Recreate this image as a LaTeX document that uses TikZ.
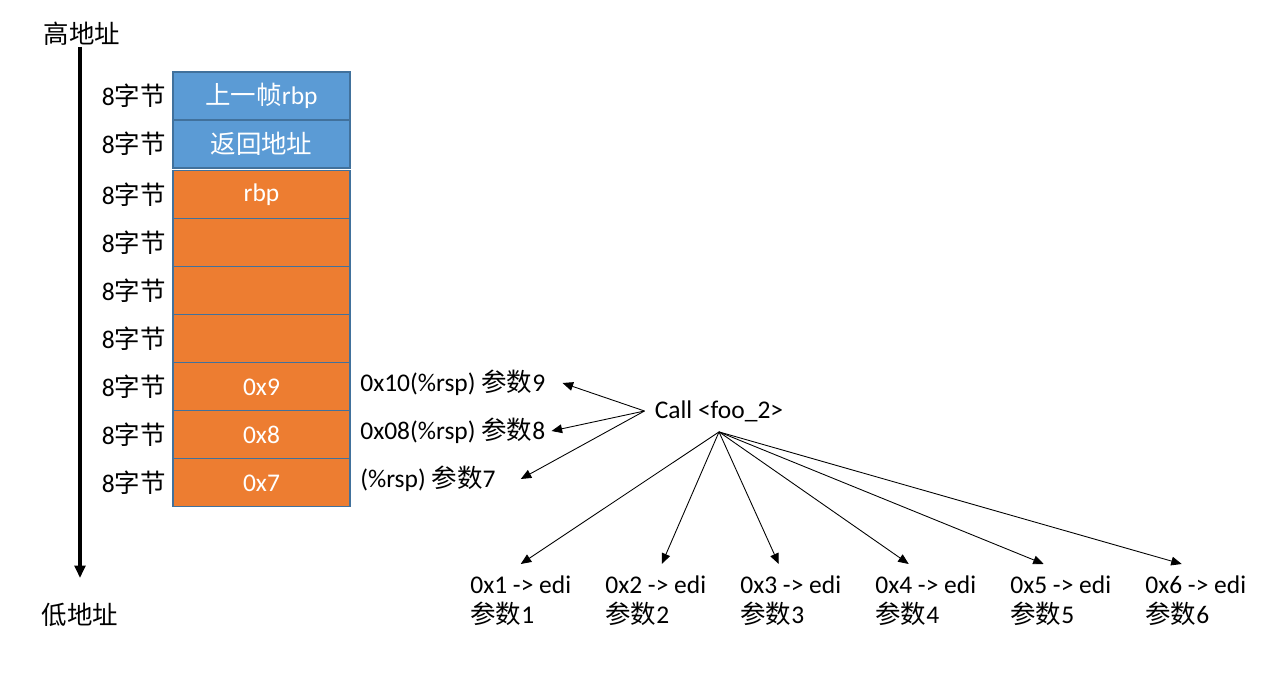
\documentclass[tikz,border=0pt]{standalone}
\usepackage{fontspec}
\setmainfont{Carlito}
\newfontfamily\cjk{Noto Sans CJK SC}
\usetikzlibrary{positioning, arrows.meta, calc}
\definecolor{frameblue}{HTML}{5B9BD5}
\definecolor{frameorange}{HTML}{ED7D31}
\definecolor{cellline}{HTML}{41719C}

\begin{document}
\begin{tikzpicture}[
    x=0.02cm, y=-0.02cm,
    font=\fontsize{14.5}{17}\selectfont,
    cell/.style={
        rectangle, draw=cellline, line width=0.6pt,
        minimum width=3.54cm, minimum height=0.96cm,
        inner sep=0pt, outer sep=0pt, text=white,
    },
    oldcell/.style={cell, fill=frameblue},
    newcell/.style={cell, fill=frameorange},
    size/.style={inner sep=2pt},
    ends/.style={font=\cjk\fontsize{14.5}{17}\selectfont},
    slot/.style={anchor=west, inner sep=0pt},
    arg/.style={align=left, font=\fontsize{14.5}{17.6}\selectfont, anchor=north west, inner sep=0pt},
    ptr/.style={-{Triangle[length=6pt, width=5pt]}, line width=0.5pt},
]
\useasboundingbox (0,0) rectangle (1268,685);

% --- Address axis ---
\node[ends] (hi) at (82,34) {高地址};
\node[ends] (lo) at (80,615) {低地址};
\coordinate (axistop) at (80,47);
\coordinate (axisend) at (80,578);
\draw[line width=2.2pt, -{Triangle[length=7pt, width=6pt]}] (axistop) -- (axisend);

% --- Stack cells, top to bottom ---
\node[oldcell] (f1) at (261.5,96) {{\cjk 上一帧}rbp};
\node[oldcell, below=0pt of f1]   (f2) {{\cjk 返回地址}};
\node[newcell, below=1.7pt of f2] (s1) {rbp};
\node[newcell, below=0pt of s1]   (s2) {};
\node[newcell, below=0pt of s2]   (s3) {};
\node[newcell, below=0pt of s3]   (s4) {};
\node[newcell, below=0pt of s4]   (s5) {0x9};
\node[newcell, below=0pt of s5]   (s6) {0x8};
\node[newcell, below=0pt of s6]   (s7) {0x7};

% --- Cell sizes ---
\foreach \c in {f1, f2, s1, s2, s3, s4, s5, s6, s7}{
    \node[size, left=2pt of \c] (z\c) {8{\cjk 字节}};
}

% --- Stack arguments ---
\node[slot] (p9) at (360,383) {0x10(\%rsp) {\cjk 参数}9};
\node[slot] (p8) at (360,431) {0x08(\%rsp) {\cjk 参数}8};
\node[slot] (p7) at (360,479) {(\%rsp) {\cjk 参数}7};

\node[inner sep=0.2cm] (call) at (719,411) {Call <foo\_2>};

\foreach \t/\dx in {p9/17, p8/6, p7/25}{
    \draw[ptr] (call.west) -- ($(\t.east)+(\dx,0)$);
}

% --- Register arguments ---
\foreach \i/\x/\dx in {1/470/0, 2/605/6, 3/740/-12, 4/875/-17, 5/1010/-17, 6/1145/-14}{
    \node[arg] (b\i) at (\x,575) {0x\i{} -> edi\\{\cjk 参数}\i};
    \draw[ptr] (call.south) -- ($(b\i.north)+(\dx,-11)$);
}

\end{tikzpicture}
\end{document}
